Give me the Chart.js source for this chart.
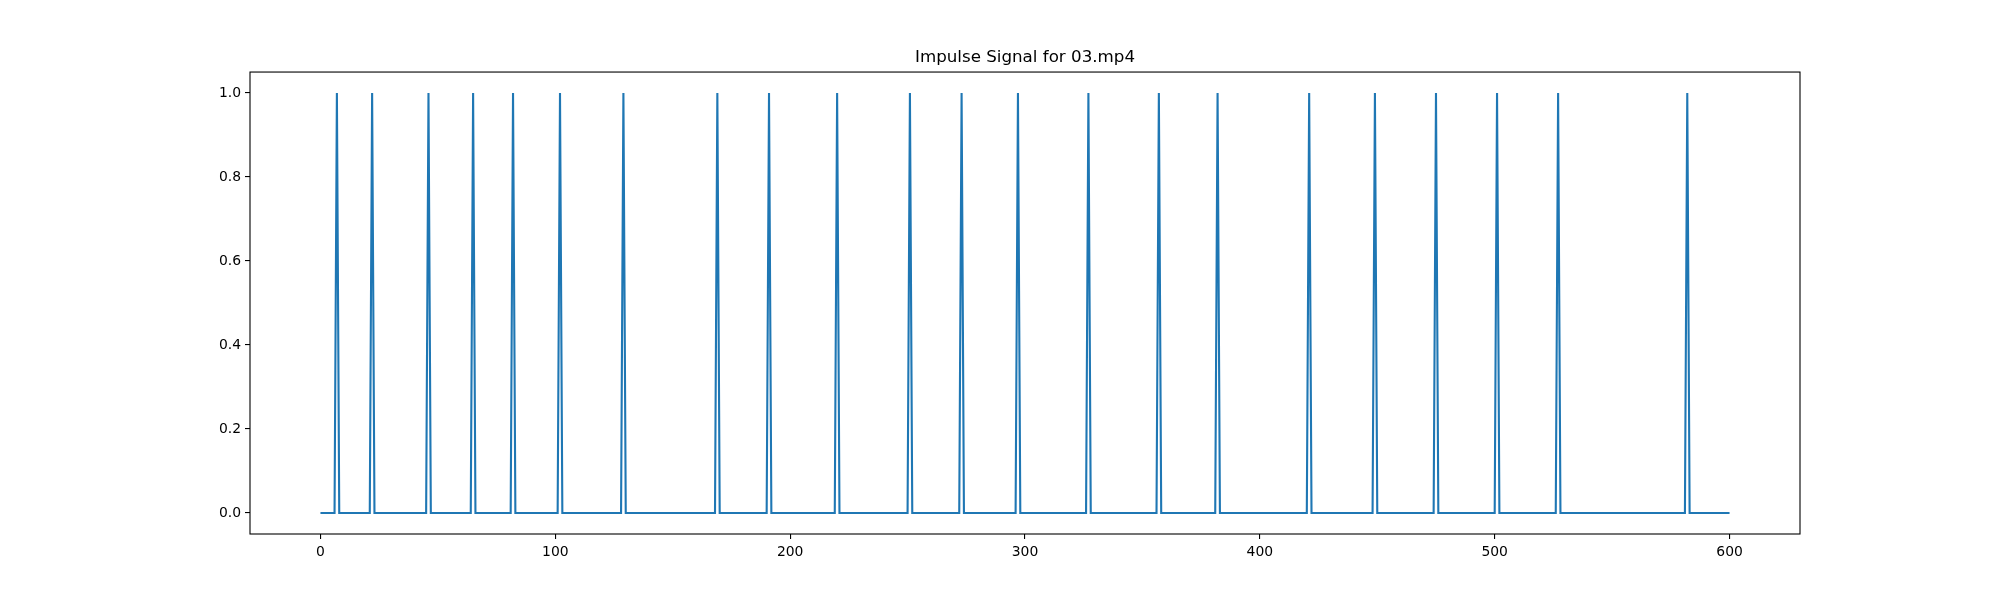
<!DOCTYPE html>
<html>
<head>
<meta charset="utf-8">
<script src="https://cdn.jsdelivr.net/npm/chart.js@4"></script>
<style>
  html, body { margin: 0; padding: 0; background: #fff; }
  #wrap { width: 2000px; height: 600px; }
</style>
</head>
<body>
<div id="wrap"><canvas id="impulse-chart" width="2000" height="600"></canvas></div>
<script>
// frames where the impulse fires (value 1), everything else is 0
const impulseFrames = [7, 22, 46, 65, 82, 102, 129, 169, 191, 220, 251, 273, 297, 327, 357, 382, 421, 449, 475, 501, 527, 582];
const firstFrame = 0;
const lastFrame = 600;
const xTicks = [0, 100, 200, 300, 400, 500, 600];
const yTicks = [0.0, 0.2, 0.4, 0.6, 0.8, 1.0];
const chartTitle = 'Impulse Signal for 03.mp4';

let signal = [];
for (let f = firstFrame; f <= lastFrame; f++) {
	signal.push({ x: f, y: impulseFrames.includes(f) ? 1 : 0 });
}

// black box around the plot area, like matplotlib spines
const frameBox = {
	id: 'frameBox',
	afterDatasetsDraw(chart) {
		const a = chart.chartArea;
		const c = chart.ctx;
		c.save();
		c.strokeStyle = '#000';
		c.lineWidth = 1.1;
		c.strokeRect(a.left, a.top, a.right - a.left, a.bottom - a.top);
		c.restore();
	}
};

const tickFont = { family: 'DejaVu Sans', size: 13.9 };

const config = {
	type: 'line',
	data: {
		datasets: [{
			data: signal,
			borderColor: '#1f77b4',
			borderWidth: 2.1,
			pointRadius: 0,
			tension: 0,
			fill: false
		}]
	},
	options: {
		responsive: false,
		animation: false,
		layout: { padding: { left: 0, right: 200, top: 0, bottom: 0 } },
		plugins: {
			legend: { display: false },
			tooltip: { enabled: false },
			title: {
				display: true,
				text: chartTitle,
				fullSize: false,
				color: '#000',
				font: { family: 'DejaVu Sans', size: 16.7, weight: 'normal', lineHeight: 1.2 },
				padding: { top: 48, bottom: 4 }
			}
		},
		scales: {
			x: {
				type: 'linear',
				min: -30,
				max: 630,
				afterBuildTicks: (scale) => { scale.ticks = xTicks.map(v => ({ value: v })); },
				afterFit: (scale) => { scale.height = 66; },
				border: { display: false },
				grid: { display: true, drawOnChartArea: false, drawTicks: true, tickLength: 5, color: '#000', lineWidth: 1.1 },
				ticks: { color: '#000', font: tickFont, padding: 5, maxRotation: 0, autoSkip: false }
			},
			y: {
				min: -0.05,
				max: 1.05,
				afterBuildTicks: (scale) => { scale.ticks = yTicks.map(v => ({ value: v })); },
				afterFit: (scale) => { scale.width = 250; },
				border: { display: false },
				grid: { display: true, drawOnChartArea: false, drawTicks: true, tickLength: 5, color: '#000', lineWidth: 1.1 },
				ticks: { color: '#000', font: tickFont, padding: 4, callback: (v) => Number(v).toFixed(1) }
			}
		}
	},
	plugins: [frameBox]
};

new Chart(document.getElementById('impulse-chart').getContext('2d'), config);
</script>
</body>
</html>
